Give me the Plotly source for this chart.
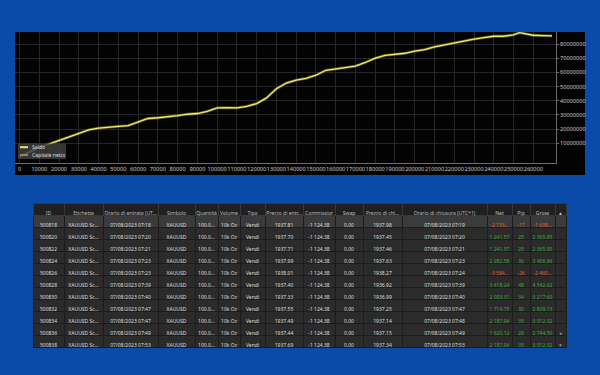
import plotly.graph_objects as go

# ---------------- chart data ----------------
trade_no = [0, 5000, 10000, 15000, 20000, 25000, 30000, 35000, 40000, 45000,
            50000, 55000, 60000, 65000, 70000, 75000, 80000, 85000, 90000, 95000,
            100000, 105000, 110000, 115000, 120000, 125000, 130000, 135000, 140000, 145000,
            150000, 155000, 160000, 165000, 170000, 175000, 180000, 185000, 190000, 195000,
            200000, 205000, 210000, 215000, 220000, 225000, 230000, 235000, 240000, 245000,
            250000, 253000, 256000, 260000, 265000, 269500]
saldo = [300000, 4000000, 7000000, 9500000, 12000000, 15000000, 17500000, 19500000, 20700000, 21500000,
         22000000, 22500000, 25000000, 27500000, 28000000, 28500000, 29500000, 30500000, 31000000, 32500000,
         35000000, 35200000, 35000000, 36000000, 38000000, 42000000, 48500000, 52500000, 54500000, 55800000,
         58000000, 61500000, 62500000, 63500000, 64500000, 67000000, 70000000, 72000000, 72500000, 73500000,
         75000000, 76000000, 78000000, 79500000, 80500000, 82000000, 83500000, 84500000, 85500000, 85500000,
         86500000, 88000000, 87000000, 86200000, 86000000, 85800000]
capitale_netto = [300000, 4000000, 7000000, 9500000, 12000000, 15000000, 17500000, 19500000, 20700000, 21500000,
                  22000000, 22500000, 25000000, 27500000, 28000000, 28500000, 29500000, 30500000, 31000000, 32500000,
                  35000000, 35200000, 35000000, 36000000, 38000000, 42000000, 48500000, 52500000, 54500000, 55800000,
                  58000000, 61500000, 62500000, 63500000, 64500000, 67000000, 70000000, 72000000, 72500000, 73500000,
                  75000000, 76000000, 78000000, 79500000, 80500000, 82000000, 83500000, 84500000, 85500000, 85500000,
                  86500000, 88000000, 87000000, 86200000, 86000000, 85800000]
x_ticks = [0, 10000, 20000, 30000, 40000, 50000, 60000, 70000, 80000, 90000, 100000, 110000, 120000,
           130000, 140000, 150000, 160000, 170000, 180000, 190000, 200000, 210000, 220000, 230000,
           240000, 250000, 260000]
y_ticks = [10000000, 20000000, 30000000, 40000000, 50000000, 60000000, 70000000, 80000000]

# ---------------- table data ----------------
headers = ["ID", "Etichetta", "Orario di entrata (UT...", "Simbolo", "Quantità", "Volume", "Tipo",
           "Prezzo di entr...", "Commissior", "Swap", "Prezzo di chi...", "Orario di chiusura (UTC+1)",
           "Net", "Pip", "Gross", "▲"]
ids = ["500818", "500820", "500822", "500824", "500826", "500828", "500830", "500832", "500834", "500836", "500838"]
etichetta = ["XAUUSD Sc..."] * 11
entry_time = ["07/08/2023 07:18", "07/08/2023 07:20", "07/08/2023 07:21", "07/08/2023 07:23",
              "07/08/2023 07:23", "07/08/2023 07:39", "07/08/2023 07:40", "07/08/2023 07:47",
              "07/08/2023 07:47", "07/08/2023 07:49", "07/08/2023 07:53"]
simbolo = ["XAUUSD"] * 11
quantita = ["100.0..."] * 11
volume = ["10k Oz"] * 11
tipo = ["Vendi"] * 11
entry_price = ["1937.81", "1937.70", "1937.71", "1937.99", "1938.01", "1937.40", "1937.33",
               "1937.55", "1937.49", "1937.44", "1937.69"]
commissione = ["-1 124.38"] * 11
swap = ["0.00"] * 11
close_price = ["1937.98", "1937.45", "1937.46", "1937.63", "1938.27", "1936.92", "1936.99",
               "1937.25", "1937.14", "1937.15", "1937.34"]
close_time = ["07/08/2023 07:19", "07/08/2023 07:20", "07/08/2023 07:21", "07/08/2023 07:23",
              "07/08/2023 07:24", "07/08/2023 07:39", "07/08/2023 07:40", "07/08/2023 07:47",
              "07/08/2023 07:48", "07/08/2023 07:49", "07/08/2023 07:53"]
net = ["-2 733...", "1 241.57", "1 241.57", "2 282.58", "-3 584...", "3 418.24", "2 093.31",
       "1 714.75", "2 187.94", "1 620.12", "2 187.94"]
pip = [-17, 25, 25, 36, -26, 48, 34, 30, 35, 29, 35]
gross = ["-1 608...", "2 365.95", "2 365.95", "3 406.96", "-2 460...", "4 542.62", "3 217.69",
         "2 839.13", "3 312.32", "2 744.50", "3 312.32"]
scroll = ["", "", "", "", "", "", "", "", "", "●", "▼"]

W, H = 600, 375
def px_x(p):
    return p / W
def px_y(p):
    return 1 - p / H

def nb(vals):
    # non-breaking spaces so the table keeps each value on one line
    return [str(v).replace(" ", "\u00a0") for v in vals]

BLUE = "#0a4aa8"
FONT = "Noto Sans"

fig = go.Figure()
fig.add_trace(go.Scatter(x=trade_no, y=capitale_netto, name="Capitale netto", mode="lines",
                         line=dict(color="rgba(150,140,45,0.6)", width=2.8), showlegend=False,
                         hoverinfo="skip"))
fig.add_trace(go.Scatter(x=trade_no, y=saldo, name="Saldo", mode="lines",
                         line=dict(color="#f2ea72", width=1.3), showlegend=False))

# table
n = len(ids)
row_fill = ["#3b3b3b"] + ["#2b2b2b"] * (n - 1)
def sign_colors(vals):
    return ["#e0602c" if str(v).startswith("-") else "#3fa83f" for v in vals]
white = ["#dcdcdc"] * n
font_colors = [white] * 12 + [sign_colors(net), sign_colors(pip), sign_colors(gross), ["#8a8a8a"] * n]
columns = [ids, etichetta, entry_time, simbolo, quantita, volume, tipo, entry_price,
           commissione, swap, close_price, close_time, net, pip, gross, scroll]
fig.add_trace(go.Table(
    domain=dict(x=[px_x(33), px_x(566)], y=[px_y(348), px_y(203)]),
    columnwidth=[31, 39, 55, 37, 23, 22, 25, 38, 32, 28, 39, 85, 25, 18, 25, 11],
    header=dict(values=nb(headers), fill_color="#202020", line=dict(color="#383838", width=1),
                font=dict(family=FONT, size=5, color="#bdbdbd"), align="center", height=12),
    cells=dict(values=[nb(c) for c in columns],
               fill_color=[row_fill] * 16, line=dict(color="#1c1c1c", width=1),
               font=dict(family=FONT, size=5, color=font_colors), align="center", height=12),
))

fig.update_layout(
    width=W, height=H, margin=dict(l=0, r=0, t=0, b=0),
    paper_bgcolor=BLUE, plot_bgcolor="#030303",
    font=dict(family=FONT, size=6, color="#c8c8c8"),
    showlegend=False,
    xaxis=dict(domain=[px_x(15), px_x(556)], range=[-2300, 271500], tickvals=x_ticks,
               tickformat="d", tickangle=0, showgrid=True, gridcolor="#262626", gridwidth=1, zeroline=False,
               showline=True, linecolor="#6e6e6e", linewidth=1, ticks="",
               tickfont=dict(size=5.6, color="#c8c8c8")),
    yaxis=dict(domain=[px_y(163), px_y(32)], range=[-3900000, 88500000], side="right", tickvals=y_ticks,
               tickformat="d", showgrid=True, gridcolor="#262626", gridwidth=1, zeroline=False,
               showline=True, linecolor="#6e6e6e", linewidth=1, ticks="outside", ticklen=2,
               tickcolor="#6e6e6e", tickfont=dict(size=5.6, color="#c8c8c8")),
    shapes=[
        dict(type="rect", xref="paper", yref="paper", x0=px_x(15), x1=px_x(585), y0=px_y(175), y1=px_y(32),
             fillcolor="#030303", line=dict(width=0), layer="below"),
        # manual legend
        dict(type="rect", xref="paper", yref="paper", x0=px_x(18), x1=px_x(66), y0=px_y(159), y1=px_y(143.5),
             fillcolor="rgba(62,62,62,0.85)", line=dict(width=0), layer="above"),
        dict(type="line", xref="paper", yref="paper", x0=px_x(20), x1=px_x(28), y0=px_y(147.2), y1=px_y(147.2),
             line=dict(color="#ece46a", width=2), layer="above"),
        dict(type="line", xref="paper", yref="paper", x0=px_x(20), x1=px_x(28), y0=px_y(155), y1=px_y(155),
             line=dict(color="#8c8a66", width=2), layer="above"),
    ],
    annotations=[
        dict(text="Saldo", xref="paper", yref="paper", x=px_x(31), y=px_y(147.2), xanchor="left",
             yanchor="middle", showarrow=False, height=6, borderpad=0,
             font=dict(size=5.1, color="#dedede")),
        dict(text="Capitale netto", xref="paper", yref="paper", x=px_x(31), y=px_y(155), xanchor="left",
             yanchor="middle", showarrow=False, height=6, borderpad=0,
             font=dict(size=5.1, color="#dedede")),
    ],
)

fig.write_html("out.html", config={"displayModeBar": False},
               post_script="document.body.style.margin='0';document.body.style.overflow='hidden';")
